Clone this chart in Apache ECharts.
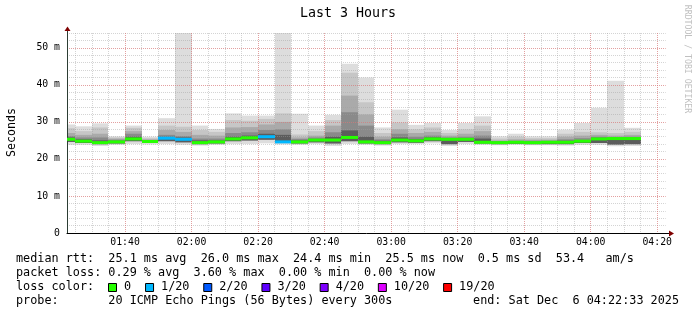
<!DOCTYPE html>
<html>
<head>
<meta charset="utf-8">
<script src="https://cdn.jsdelivr.net/npm/echarts@6/dist/echarts.min.js"></script>
<style>html,body{margin:0;padding:0;background:#fff}#c{width:697px;height:315px}</style>
</head>
<body>
<div id="c"></div>
<script>
// ---------- data ----------
const stepStarts = ['01:20','01:25','01:30','01:35','01:40','01:45','01:50','01:55',
  '02:00','02:05','02:10','02:15','02:20','02:25','02:30','02:35','02:40','02:45','02:50','02:55',
  '03:00','03:05','03:10','03:15','03:20','03:25','03:30','03:35','03:40','03:45','03:50','03:55',
  '04:00','04:05','04:10'];
const medians  = [25.3,24.8,24.4,24.6,25.4,24.7,25.6,25.3,24.4,24.6,25.4,25.7,26.0,24.6,24.6,25.1,25.1,25.8,24.6,24.4,
  25.1,24.9,25.4,25.3,25.3,24.5,24.4,24.5,24.4,24.5,24.5,24.8,25.4,25.5,25.5];
const lossCount = [0,0,0,0,0,0,1,1,0,0,0,0,1,1,0,0,0,0,0,0,0,0,0,0,0,0,0,0,0,0,0,0,0,0,0];
const smokeMax = [29.3,28.8,29.6,26.1,29.0,26.0,31.0,54.0,29.0,28.1,32.3,31.7,31.7,54.0,32.2,29.0,31.9,45.7,42.0,28.5,
  33.3,29.2,29.7,27.8,29.7,31.5,26.1,26.8,26.1,26.1,27.9,29.7,33.8,41.1,28.4];
const smoke2   = [28.3,27.5,28.5,25.8,28.4,25.6,29.0,28.7,27.8,27.3,30.5,30.3,30.8,32.3,26.6,27.5,30.5,43.3,35.3,27.0,
  29.8,28.0,28.5,27.0,28.0,29.0,25.5,26.0,25.6,25.6,26.8,27.3,27.2,27.0,27.3];
const smoke3   = [27.0,26.5,26.8,25.5,27.5,25.3,27.8,27.3,26.5,26.3,28.5,28.6,29.3,30.0,25.8,26.3,29.0,37.1,32.0,26.0,
  28.0,27.0,27.3,26.3,26.8,27.5,25.0,25.3,25.2,25.2,26.0,26.3,26.5,26.3,26.5];
const smoke4   = [26.2,25.8,25.8,25.2,26.8,25.1,26.5,26.2,25.5,25.5,27.0,27.2,27.8,28.0,25.4,25.8,27.2,32.6,29.0,25.3,
  26.8,26.0,26.3,25.8,26.0,26.3,24.8,24.9,24.9,24.9,25.3,25.6,26.0,25.9,26.0];
const smoke5   = [25.8,25.3,25.0,24.9,26.0,24.9,26.0,25.8,25.0,25.0,26.0,26.3,26.8,26.5,25.0,25.4,26.0,27.7,26.0,24.9,
  25.8,25.4,25.8,25.5,25.6,25.5,24.6,24.7,24.6,24.7,24.9,25.1,25.7,25.6,25.7];
const smokeLow = [24.6,24.3,24.0,24.2,24.8,24.3,24.8,24.5,24.0,24.2,24.8,25.0,25.2,24.3,24.2,24.5,24.2,24.8,24.2,24.0,
  24.5,24.4,24.8,24.0,24.6,24.2,24.0,24.1,24.0,24.0,24.0,24.3,24.3,23.9,24.0];
const smokeMin = [23.8,23.8,23.5,23.8,24.0,23.9,24.0,23.8,23.6,23.8,24.0,24.0,24.2,23.9,23.8,24.0,23.5,24.0,23.8,23.6,
  24.0,24.0,24.2,23.5,24.0,23.8,23.7,23.8,23.7,23.7,23.6,23.8,23.8,23.4,23.5];
const xTickLabels = ['01:40','02:00','02:20','02:40','03:00','03:20','03:40','04:00','04:20'];
const yTickValues = [0,10,20,30,40,50];
const viewStart = '01:22:33', viewEnd = '04:22:33';
const lossLabels = ['0','1/20','2/20','3/20','4/20','10/20','19/20'];
const lossColors = ['#26ff00','#00b8ff','#0059ff','#5e00ff','#7e00ff','#dd00ff','#ff0000'];
const legendLines = [
  'median rtt:  25.1 ms avg  26.0 ms max  24.4 ms min  25.5 ms now  0.5 ms sd  53.4   am/s',
  'packet loss: 0.29 % avg  3.60 % max  0.00 % min  0.00 % now',
  'loss color:',
  'probe:       20 ICMP Echo Pings (56 Bytes) every 300s'
];
const endText = 'end: Sat Dec  6 04:22:33 2025';
const titleText = 'Last 3 Hours';
const yName = 'Seconds';
const stepMinutes = 5;
const yMax = 54;

// ---------- helpers ----------
function toMin(s){const p=s.split(':').map(Number);return p[0]*60+p[1]+(p[2]||0)/60;}
const xMin = toMin(viewStart), xMax = toMin(viewEnd);
const majorX = xTickLabels.map(toMin);
const minorX = [];
for (let m = Math.ceil(xMin/5)*5; m <= xMax; m += 5) if (m % 20 !== 0) minorX.push(m);
const minorY = [];
for (let v = 2; v <= yMax; v += 2) if (v % 10 !== 0) minorY.push(v);
function fmt(m){const h=Math.floor(m/60),mm=Math.round(m%60);return String(h).padStart(2,'0')+':'+String(mm).padStart(2,'0');}

const shades = ['#dddddd','#c6c6c6','#aaaaaa','#8a8a8a','#5c5c5c'];
const seriesData = stepStarts.map((t,i)=>[toMin(t), toMin(t)+stepMinutes,
  smokeMax[i], smoke2[i], smoke3[i], smoke4[i], smoke5[i], smokeLow[i], smokeMin[i], medians[i], lossCount[i]]);

function lossColor(n){
  const th=[0,1,2,3,4,10,19];
  let c=lossColors[0];
  for(let k=0;k<th.length;k++) if(n>=th[k]) c=lossColors[k];
  return c;
}

function clipX(a,b,cs){return [Math.round(Math.max(a,cs.x)), Math.round(Math.min(b,cs.x+cs.width))];}

function renderSmoke(params, api){
  const cs = params.coordSys;
  const x0 = api.value(0), x1 = api.value(1);
  const bands = [[api.value(8), api.value(2)],[api.value(7), api.value(3)],[api.value(7), api.value(4)],
                 [api.value(7), api.value(5)],[api.value(7), api.value(6)]];
  const children = [];
  bands.forEach((b,k)=>{
    const p0 = api.coord([x0,b[0]]), p1 = api.coord([x1,b[1]]);
    const xs = clipX(p0[0],p1[0],cs);
    if (xs[1] <= xs[0]) return;
    children.push({type:'rect', shape:{x:xs[0], y:p1[1], width:xs[1]-xs[0], height:p0[1]-p1[1]},
      style:{fill:shades[k]}});
  });
  return {type:'group', children};
}
function renderMedian(params, api){
  const cs = params.coordSys;
  const p0 = api.coord([api.value(0), api.value(9)]), p1 = api.coord([api.value(1), api.value(9)]);
  const xs = clipX(p0[0],p1[0],cs);
  return {type:'rect', shape:{x:xs[0], y:p0[1]-1.5, width:xs[1]-xs[0], height:3},
    style:{fill:lossColor(api.value(10))}};
}

const mono = 'DejaVu Sans Mono';
const chart = echarts.init(document.getElementById('c'), null, {renderer:'canvas'});

const legendFont = '11.8px "'+mono+'"';
const graphics = [];
graphics.push({type:'text', x:348, y:14, style:{text:titleText, font:'13.3px "'+mono+'"', fill:'#000', align:'center', verticalAlign:'middle'}});
graphics.push({type:'text', x:11.5, y:132.5, rotation:Math.PI/2, style:{text:yName, font:'11.6px "'+mono+'"', fill:'#000', align:'center', verticalAlign:'middle'}});
graphics.push({type:'text', x:687, y:59, rotation:-Math.PI/2, style:{text:'RRDTOOL / TOBI OETIKER', font:'8.2px "'+mono+'"', fill:'#c0c0c0', align:'center', verticalAlign:'middle'}});
const lineY = [259.3, 273.3, 287.3, 301.3];
legendLines.forEach((t,i)=>{
  graphics.push({type:'text', x:16, y:lineY[i], style:{text:t, font:legendFont, fill:'#000', align:'left', verticalAlign:'middle'}});
});
graphics.push({type:'text', x:679, y:lineY[3], style:{text:endText, font:legendFont, fill:'#000', align:'right', verticalAlign:'middle'}});
let bx = 108;
lossLabels.forEach((lab,k)=>{
  graphics.push({type:'rect', shape:{x:bx+0.5, y:283.5, width:8, height:8}, style:{fill:lossColors[k], stroke:'#000', lineWidth:1}});
  graphics.push({type:'text', x:bx+16, y:lineY[2], style:{text:lab, font:legendFont, fill:'#000', align:'left', verticalAlign:'middle'}});
  bx = bx + 16 + lab.length*7.05 + 14;
});

const gridStyleMajor = {color:'rgba(215,120,120,0.7)', width:1, type:[1,1]};
const gridStyleMinor = {color:'rgba(160,160,160,0.45)', width:1, type:[1,1]};

chart.setOption({
  backgroundColor:'#ffffff',
  animation:false,
  grid:{left:67, right:31.3, top:33, bottom:82, containLabel:false},
  xAxis:[
    {type:'value', min:xMin, max:xMax, position:'bottom', z:3,
     axisLine:{show:true, lineStyle:{color:'#000', width:1}},
     axisTick:{show:false, customValues:majorX},
     axisLabel:{customValues:majorX, formatter:v=>fmt(v), fontFamily:mono, fontSize:9.8, color:'#000', margin:4},
     splitLine:{show:true, lineStyle:gridStyleMajor}},
    {type:'value', min:xMin, max:xMax, position:'top', z:1,
     axisLine:{show:false}, axisTick:{show:false, customValues:minorX}, axisLabel:{show:false, customValues:minorX},
     splitLine:{show:true, lineStyle:gridStyleMinor}}
  ],
  yAxis:[
    {type:'value', min:0, max:yMax, position:'left', z:3,
     axisLine:{show:true, lineStyle:{color:'#2c3d33', width:1}},
     axisTick:{show:false, customValues:yTickValues},
     axisLabel:{customValues:yTickValues, formatter:v=> v===0 ? '0' : v+' m', fontFamily:mono, fontSize:9.8, color:'#000', margin:7},
     splitLine:{show:true, lineStyle:gridStyleMajor}},
    {type:'value', min:0, max:yMax, position:'right', z:1,
     axisLine:{show:false}, axisTick:{show:false, customValues:minorY}, axisLabel:{show:false, customValues:minorY},
     splitLine:{show:true, lineStyle:gridStyleMinor}}
  ],
  series:[
    {type:'custom', name:'smoke', xAxisIndex:0, yAxisIndex:0, z:-1, renderItem:renderSmoke, data:seriesData, silent:true},
    {type:'custom', name:'median', xAxisIndex:0, yAxisIndex:0, z:5, renderItem:renderMedian, data:seriesData, silent:true}
  ],
  graphic:graphics
});

// axis arrows positioned through the scales
const pEnd = chart.convertToPixel({xAxisIndex:0, yAxisIndex:0}, [xMax, 0]);
const pTop = chart.convertToPixel({xAxisIndex:0, yAxisIndex:0}, [xMin, yMax]);
const ax = Math.round(pEnd[0]), ay = Math.round(pEnd[1]) + 0.5;
const tx = Math.round(pTop[0]) + 0.5, ty = Math.round(pTop[1]);
graphics.push({type:'line', shape:{x1:ax, y1:ay, x2:ax+4, y2:ay}, style:{stroke:'#000', lineWidth:1}});
graphics.push({type:'polygon', shape:{points:[[ax+3,ay-3],[ax+8,ay],[ax+3,ay+3]]}, style:{fill:'#7f0000'}});
graphics.push({type:'line', shape:{x1:tx, y1:ty, x2:tx, y2:ty-3}, style:{stroke:'#2c3d33', lineWidth:1}});
graphics.push({type:'polygon', shape:{points:[[tx-3,ty-2],[tx,ty-6.5],[tx+3,ty-2]]}, style:{fill:'#7f0000'}});
chart.setOption({graphic:graphics});
</script>
</body>
</html>
